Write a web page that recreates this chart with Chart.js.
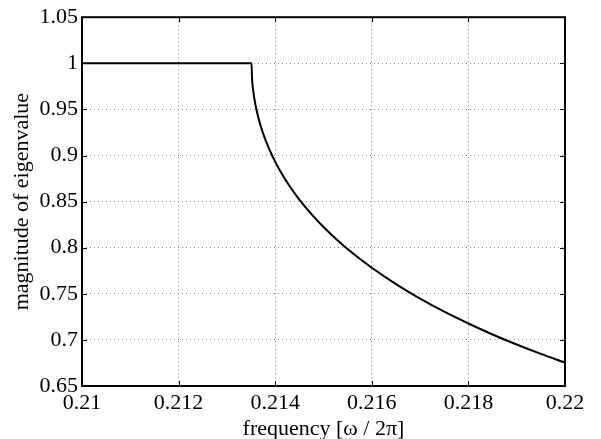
<!DOCTYPE html>
<html>
<head>
<meta charset="utf-8">
<script src="https://cdn.jsdelivr.net/npm/chart.js@4/dist/chart.umd.min.js"></script>
<style>
  html, body { margin: 0; padding: 0; background: #fff; }
  #wrap { width: 601px; height: 439px; position: relative; }
</style>
</head>
<body>
<div id="wrap"><canvas id="c" width="601" height="439"></canvas></div>
<script>
// Data
const frequency = [0.2100, 0.2120, 0.2135, 0.21351, 0.21352, 0.21354, 0.21357, 0.21362, 0.21370, 0.21380,
  0.21395, 0.21410, 0.21430, 0.21450, 0.21475, 0.21500, 0.21530, 0.21560, 0.21600, 0.21650,
  0.21700, 0.21750, 0.21800, 0.21850, 0.21900, 0.21950, 0.22000];
const magnitude = [1.0000, 1.0000, 1.0000, 1.0000, 0.9839, 0.9724, 0.9611, 0.9477, 0.9319, 0.9167,
  0.8985, 0.8835, 0.8667, 0.8522, 0.8364, 0.8225, 0.8076, 0.7942, 0.7782, 0.7605,
  0.7448, 0.7306, 0.7178, 0.7059, 0.6950, 0.6848, 0.6753];
const xTickLabels = ['0.21', '0.212', '0.214', '0.216', '0.218', '0.22'];
const yTickLabels = ['0.65', '0.7', '0.75', '0.8', '0.85', '0.9', '0.95', '1', '1.05'];
const xTitle = 'frequency [ω / 2π]';
const yTitle = 'magnitude of eigenvalue';

const points = frequency.map((f, i) => ({ x: f, y: magnitude[i] }));
const FONT = "'Liberation Serif', 'Times New Roman', serif";

const framePlugin = {
  id: 'frame',
  afterDatasetsDraw(chart) {
    const { ctx, chartArea: a, scales } = chart;
    ctx.save();
    ctx.strokeStyle = '#000';
    ctx.lineWidth = 1;
    const tl = 5;
    ctx.beginPath();
    scales.x.ticks.forEach(t => {
      const px = Math.round(scales.x.getPixelForValue(t.value)) + 0.5;
      ctx.moveTo(px, a.bottom); ctx.lineTo(px, a.bottom - tl);
      ctx.moveTo(px, a.top); ctx.lineTo(px, a.top + tl);
    });
    scales.y.ticks.forEach(t => {
      const py = Math.round(scales.y.getPixelForValue(t.value)) + 0.5;
      ctx.moveTo(a.left, py); ctx.lineTo(a.left + tl, py);
      ctx.moveTo(a.right, py); ctx.lineTo(a.right - tl, py);
    });
    ctx.stroke();
    ctx.lineWidth = 2;
    ctx.strokeRect(a.left, a.top, a.right - a.left, a.bottom - a.top);
    ctx.restore();
  }
};

new Chart(document.getElementById('c'), {
  type: 'scatter',
  data: {
    datasets: [{
      data: points,
      showLine: true,
      borderColor: '#000',
      borderWidth: 2,
      pointRadius: 0,
      cubicInterpolationMode: 'monotone',
      fill: false
    }]
  },
  options: {
    responsive: false,
    animation: false,
    devicePixelRatio: 1,
    layout: { padding: { left: 0, right: 36, top: 14, bottom: 0 } },
    plugins: { legend: { display: false }, tooltip: { enabled: false } },
    scales: {
      x: {
        type: 'linear',
        min: 0.21, max: 0.22,
        afterFit(s) { s.height = 53; },
        ticks: {
          stepSize: 0.002,
          color: '#000',
          padding: 4,
          font: { family: FONT, size: 22 },
          maxRotation: 0,
          autoSkip: false,
          callback: (v, i) => xTickLabels[i]
        },
        grid: {
          drawTicks: false,
          color: (c) => (c.index === 0 || c.index === xTickLabels.length - 1) ? 'rgba(0,0,0,0)' : '#888',
          lineWidth: 1
        },
        border: { display: false, dash: [1, 3] },
        title: {
          display: true, text: xTitle, color: '#000',
          font: { family: FONT, size: 22, lineHeight: 1.0 },
          padding: { top: 0, bottom: -1 }
        }
      },
      y: {
        type: 'linear',
        min: 0.65, max: 1.05,
        afterFit(s) { s.width = 82; },
        ticks: {
          stepSize: 0.05,
          color: '#000',
          padding: 4,
          font: { family: FONT, size: 22 },
          autoSkip: false,
          callback: (v, i) => yTickLabels[i]
        },
        grid: {
          drawTicks: false,
          color: (c) => (c.index === 0 || c.index === yTickLabels.length - 1) ? 'rgba(0,0,0,0)' : '#888',
          lineWidth: 1
        },
        border: { display: false, dash: [1, 3] },
        title: {
          display: true, text: yTitle, color: '#000',
          font: { family: FONT, size: 22, lineHeight: 1.0 },
          padding: { top: 11, bottom: 0 }
        }
      }
    }
  },
  plugins: [framePlugin]
});
</script>
</body>
</html>
